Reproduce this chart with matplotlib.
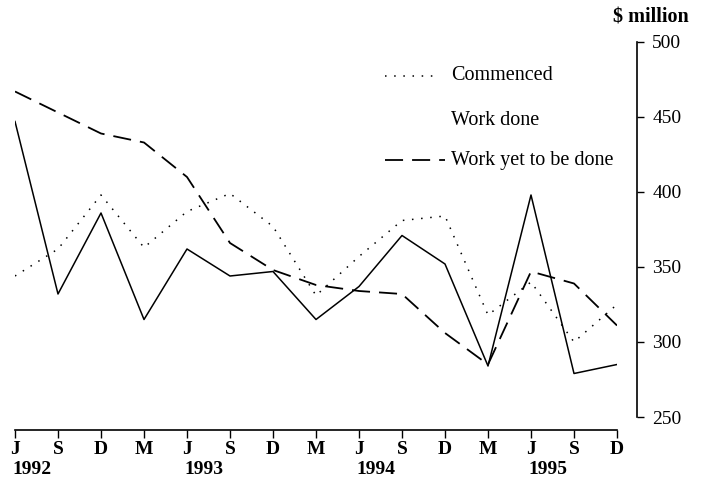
import numpy as np
import matplotlib.pyplot as plt

# Quarterly series, $ million
quarters = ['J', 'S', 'D', 'M', 'J', 'S', 'D', 'M', 'J', 'S', 'D', 'M', 'J', 'S', 'D']
years = ['1992', '1993', '1994', '1995']
year_pos = [0, 4, 8, 12]

commenced = [344, 362, 398, 363, 387, 399, 377, 331, 357, 381, 384, 318, 340, 300, 325]
work_done = [447, 332, 386, 315, 362, 344, 347, 315, 337, 371, 352, 284, 398, 279, 285]
yet_to_be_done = [467, 453, 439, 433, 410, 366, 348, 338, 334, 332, 306, 285, 347, 339, 311]

plt.rcParams['font.family'] = ['Liberation Serif', 'DejaVu Serif']

fig = plt.figure(figsize=(7.13, 4.84), dpi=100)
ax = fig.add_axes([15 / 713, 67 / 484, 602 / 713, 375 / 484])

x = np.arange(len(quarters))
ax.plot(x, commenced, color='black', lw=1.1, linestyle=(0, (1, 5)))
ax.plot(x, work_done, color='black', lw=1.1)
ax.plot(x, yet_to_be_done, color='black', lw=1.3, linestyle=(0, (10, 5)))

ax.set_xlim(0, 14)
ax.set_ylim(250, 500)

# ejes: derecha para los valores, abajo para los trimestres
ax.spines['left'].set_visible(False)
ax.spines['top'].set_visible(False)
ax.spines['right'].set_position(('outward', 14.4))
ax.spines['bottom'].set_position(('outward', 9.4))
ax.spines['bottom'].set_bounds(0, 14)
for s in ['right', 'bottom']:
    ax.spines[s].set_linewidth(1.2)

ax.yaxis.tick_right()
ax.set_yticks([250, 300, 350, 400, 450, 500])
ax.tick_params(axis='y', direction='out', length=5, width=1.0, pad=6, labelsize=14)
ax.set_xticks(x)
ax.set_xticklabels(quarters, fontweight='bold')
ax.tick_params(axis='x', direction='out', length=6, width=1.0, pad=2, labelsize=14)

for yr, p in zip(years, year_pos):
    ax.annotate(yr, xy=(p, 0), xycoords=('data', 'axes fraction'),
                xytext=(-2, -38), textcoords='offset points',
                ha='left', va='center', fontsize=14, fontweight='bold')

fig.text(651 / 713, 1 - 18 / 484, '$ million', ha='center', va='center',
         fontsize=14.5, fontweight='bold')

# leyenda hecha a mano
leg_y = [76, 120, 160]
labels = ['Commenced', 'Work done', 'Work yet to be done']
fig.add_artist(plt.Line2D([385 / 713, 440 / 713], [1 - 76 / 484] * 2,
                          color='black', lw=1.1, linestyle=(0, (1, 5))))
fig.add_artist(plt.Line2D([385 / 713, 445 / 713], [1 - 160 / 484] * 2,
                          color='black', lw=1.3, linestyle=(0, (10, 5))))
for lab, yy in zip(labels, leg_y):
    fig.text(451 / 713, 1 - yy / 484, lab, ha='left', va='center', fontsize=14.5)

fig.savefig('out.png', dpi=100)
